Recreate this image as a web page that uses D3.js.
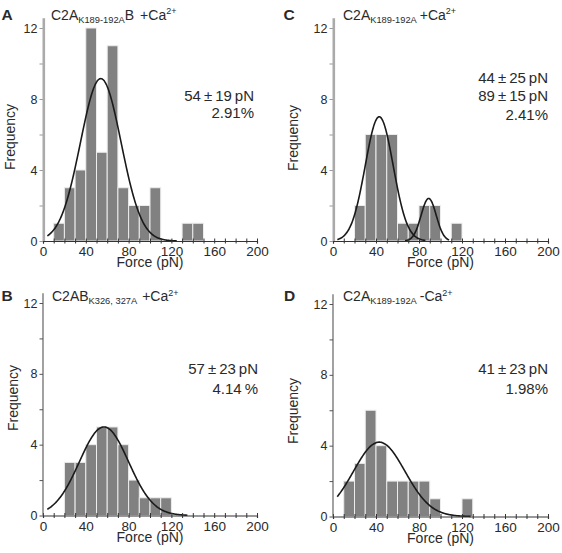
<!DOCTYPE html>
<html>
<head>
<meta charset="utf-8">
<script src="https://cdn.jsdelivr.net/npm/d3@7"></script>
<style>
  html, body { margin: 0; padding: 0; background: #fff; }
  svg { display: block; }
  text { font-family: "Liberation Sans", Arial, Helvetica, sans-serif; fill: #2a2a2a; }
</style>
</head>
<body>
<svg id="chart" width="562" height="553"></svg>
<script>
// ---------------- data ----------------
// left edges of 10 pN force bins
const binEdges = [0, 10, 20, 30, 40, 50, 60, 70, 80, 90, 100, 110, 120, 130, 140, 150, 160, 170, 180, 190];
const binWidth = 10;
// counts per bin
const countsA = [0, 1, 3, 4, 12, 5, 11, 3, 2, 2, 3, 0, 0, 1, 1, 0, 0, 0, 0, 0];
const countsB = [0, 0, 3, 3, 4, 5, 5, 4, 2, 1, 1, 1, 0, 0, 0, 0, 0, 0, 0, 0];
const countsC = [0, 0, 2, 6, 6, 6, 1, 1, 2, 2, 0, 1, 0, 0, 0, 0, 0, 0, 0, 0];
const countsD = [0, 2, 3, 6, 4, 2, 2, 2, 2, 1, 0, 0, 1, 0, 0, 0, 0, 0, 0, 0];
// Gaussian fits (mean, sigma, amplitude)
const fitA = [{ mu: 54, sigma: 19, amp: 9.15, from: 4, to: 125 }];
const fitB = [{ mu: 57, sigma: 23, amp: 5.0, from: 4, to: 135 }];
const fitC = [{ mu: 43, sigma: 13, amp: 7.0, from: 4, to: 86 },
              { mu: 89, sigma: 7, amp: 2.4, from: 67, to: 108 }];
const fitD = [{ mu: 43, sigma: 24, amp: 4.2, from: 4, to: 128 }];
// x ticks / y ticks
const xTicks = [0, 10, 20, 30, 40, 50, 60, 70, 80, 90, 100, 110, 120, 130, 140, 150, 160, 170, 180, 190, 200];
const xTickLabels = [0, 40, 80, 120, 160, 200];
const yTicks = [0, 2, 4, 6, 8, 10, 12];
const yTickLabels = [0, 4, 8, 12];
// texts
const panelLetters = ["A", "B", "C", "D"];
const titles = [
  [["C2A", 0], ["K189-192A", 1], ["B", 0], ["+Ca", 0, 6], ["2+", 2]],
  [["C2AB", 0], ["K326, 327A", 1], ["+Ca", 0, 5], ["2+", 2]],
  [["C2A", 0], ["K189-192A", 1], ["+Ca", 0, 3], ["2+", 2]],
  [["C2A", 0], ["K189-192A", 1], ["-Ca", 0, 3], ["2+", 2]]
];
const notesA = ["54\u2009\u00b1\u200919\u2009pN", "2.91%"];
const notesB = ["57\u2009\u00b1\u200923\u2009pN", "4.14\u2009%"];
const notesC = ["44\u2009\u00b1\u200925\u2009pN", "89\u2009\u00b1\u200915\u2009pN", "2.41%"];
const notesD = ["41\u2009\u00b1\u200923\u2009pN", "1.98%"];
const xLabel = "Force (pN)";
const yLabel = "Frequency";

// ---------------- layout ----------------
const panels = [
  { counts: countsA, fits: fitA, notes: notesA, title: titles[0], letter: panelLetters[0],
    x0: 43, x1: 257, y0: 241, y1: 28, thickY: true, letterXY: [1.5, 20], titleXY: [51, 19.5],
    noteX: 254, noteY: [101, 118], yLabX: 15, yLabY: 137 },
  { counts: countsB, fits: fitB, notes: notesB, title: titles[1], letter: panelLetters[1],
    x0: 43, x1: 257, y0: 515.5, y1: 303, thickY: false, letterXY: [1.5, 301], titleXY: [52, 301],
    noteX: 258, noteY: [374, 394], yLabX: 17.5, yLabY: 398 },
  { counts: countsC, fits: fitC, notes: notesC, title: titles[2], letter: panelLetters[2],
    x0: 333, x1: 548, y0: 241, y1: 28, thickY: true, letterXY: [283.5, 20], titleXY: [343, 19.5],
    noteX: 548, noteY: [83, 101, 120], yLabX: 298, yLabY: 138 },
  { counts: countsD, fits: fitD, notes: notesD, title: titles[3], letter: panelLetters[3],
    x0: 333, x1: 548, y0: 516.5, y1: 304, thickY: false, letterXY: [284, 301], titleXY: [343, 301],
    noteX: 548, noteY: [374, 394], yLabX: 298, yLabY: 411 }
];

const svg = d3.select("#chart");

panels.forEach(p => {
  const g = svg.append("g");
  const x = d3.scaleLinear().domain([0, 200]).range([p.x0, p.x1]);
  const y = d3.scaleLinear().domain([0, 12]).range([p.y0, p.y1]);

  // bars
  const bars = binEdges.map((e, i) => ({ e, c: p.counts[i] })).filter(d => d.c > 0);
  g.selectAll("rect.bar").data(bars).join("rect")
    .attr("class", "bar")
    .attr("x", d => x(d.e))
    .attr("y", d => y(d.c))
    .attr("width", d => x(d.e + binWidth) - x(d.e))
    .attr("height", d => y(0) - y(d.c))
    .attr("fill", "#818181")
    .attr("stroke", "#ececec")
    .attr("stroke-width", 1);

  // gaussian fit curves
  p.fits.forEach(f => {
    const pts = d3.range(f.from, f.to + 0.001, 0.5).map(v => [v, f.amp * Math.exp(-((v - f.mu) ** 2) / (2 * f.sigma * f.sigma))]);
    g.append("path")
      .attr("d", d3.line().x(d => x(d[0])).y(d => y(d[1])).curve(d3.curveBasis)(pts))
      .attr("fill", "none")
      .attr("stroke", "#1a1a1a")
      .attr("stroke-width", 1.6);
  });

  // x axis
  const xa = g.append("g").attr("transform", `translate(0,${p.y0})`)
    .call(d3.axisBottom(x).tickValues(xTicks)
      .tickFormat(d => xTickLabels.includes(d) ? d : "")
      .tickSize(2.5).tickPadding(2.5));
  xa.select(".domain").attr("stroke", "#333").attr("stroke-width", 1.2);
  xa.selectAll(".tick line").attr("stroke", "#333").attr("y1", -2.5).attr("y2", 2.5);
  xa.selectAll(".tick text").attr("font-size", 13.5).attr("fill", "#2a2a2a")
    .style("font-family", "'Liberation Sans', Arial, sans-serif").attr("dy", "0.75em");

  // y axis
  const ya = g.append("g").attr("transform", `translate(${p.x0},0)`)
    .call(d3.axisLeft(y).tickValues(yTicks)
      .tickFormat(d => yTickLabels.includes(d) ? d : "")
      .tickSize(3.5).tickPadding(2));
  ya.select(".domain").remove();
  const axColor = p.thickY ? "#aaaaaa" : "#555";
  ya.append("line").attr("x1", p.thickY ? 0.8 : 0).attr("x2", p.thickY ? 0.8 : 0)
    .attr("y1", y(0)).attr("y2", y(12.55))
    .attr("stroke", axColor).attr("stroke-width", p.thickY ? 2.6 : 1.1);
  ya.selectAll(".tick line").attr("stroke", p.thickY ? "#999" : "#555");
  ya.selectAll(".tick text").attr("font-size", 12.5).attr("fill", "#2a2a2a")
    .style("font-family", "'Liberation Sans', Arial, sans-serif");

  // axis titles
  g.append("text").attr("x", x(100)).attr("y", p.y0 + 26)
    .attr("text-anchor", "middle").attr("font-size", 14).text(xLabel);
  g.append("text").attr("transform", `translate(${p.yLabX},${p.yLabY}) rotate(-90)`)
    .attr("text-anchor", "middle").attr("font-size", 14).text(yLabel);

  // panel letter
  g.append("text").attr("x", p.letterXY[0]).attr("y", p.letterXY[1])
    .attr("font-size", 15.5).attr("font-weight", "bold").attr("fill", "#000").text(p.letter);

  // title with sub/superscripts
  const t = g.append("text").attr("x", p.titleXY[0]).attr("y", p.titleXY[1]).attr("font-size", 14);
  let shift = 0;
  p.title.forEach(([s, kind, gap]) => {
    const target = kind === 1 ? 3 : kind === 2 ? -5.5 : 0;
    const ts = t.append("tspan").text(s)
      .attr("font-size", kind === 1 ? 9.3 : kind === 2 ? 9 : 14)
      .attr("dy", target - shift);
    if (gap) ts.attr("dx", gap);
    shift = target;
  });

  // annotation
  p.notes.forEach((s, i) => {
    g.append("text").attr("x", p.noteX).attr("y", p.noteY[i])
      .attr("text-anchor", "end").attr("font-size", 15).text(s);
  });
});
</script>
</body>
</html>
